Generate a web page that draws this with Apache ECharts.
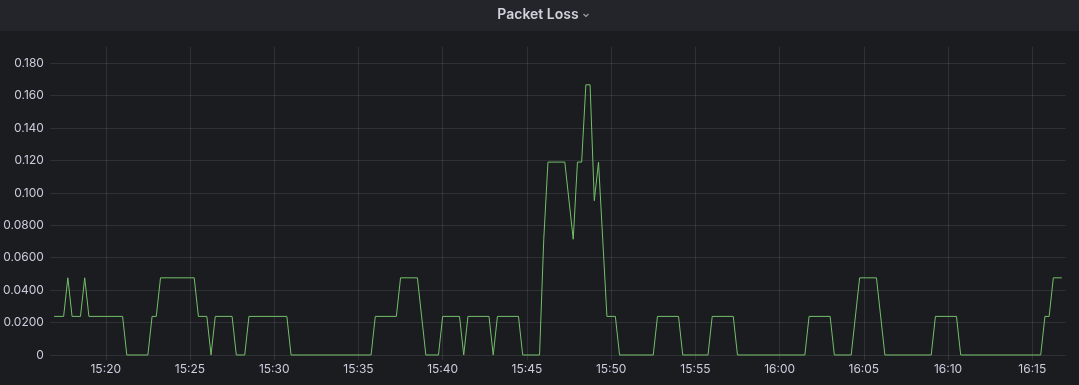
<!DOCTYPE html>
<html><head><meta charset="utf-8">
<script src="https://cdn.jsdelivr.net/npm/echarts@6/dist/echarts.min.js"></script>
<style>html,body{margin:0;padding:0;background:#1b1c20;}#c{width:1079px;height:385px;}</style>
</head><body><div id="c"></div>
<script>
const times = ['15:16:56','15:17:30','15:17:45','15:18:00','15:18:30','15:18:45','15:19:00','15:21:00','15:21:15','15:22:30',
  '15:22:45','15:23:00','15:23:15','15:25:15','15:25:30','15:26:00','15:26:15','15:26:30','15:27:30','15:27:45',
  '15:28:15','15:28:30','15:30:45','15:31:00','15:35:45','15:36:00','15:37:15','15:37:30','15:38:30','15:39:00',
  '15:39:45','15:40:00','15:41:00','15:41:15','15:41:30','15:42:45','15:43:00','15:43:15','15:44:30','15:44:45',
  '15:45:45','15:46:00','15:46:15','15:47:15','15:47:45','15:48:00','15:48:15','15:48:30','15:48:45','15:49:00',
  '15:49:15','15:49:45','15:50:15','15:50:30','15:52:30','15:52:45','15:54:00','15:54:15','15:55:45','15:56:00',
  '15:57:15','15:57:30','16:01:30','16:01:45','16:03:00','16:03:15','16:04:15','16:04:45','16:05:45','16:06:15',
  '16:09:00','16:09:15','16:10:30','16:10:45','16:15:30','16:15:45','16:16:00','16:16:15','16:16:45'];
const lossValues = [0.0238,0.0238,0.0476,0.0238,0.0238,0.0476,0.0238,0.0238,0,0,
  0.0238,0.0238,0.0476,0.0476,0.0238,0.0238,0,0.0238,0.0238,0,
  0,0.0238,0.0238,0,0,0.0238,0.0238,0.0476,0.0476,0,
  0,0.0238,0.0238,0,0.0238,0.0238,0,0.0238,0.0238,0,
  0,0.0714,0.119,0.119,0.0714,0.119,0.119,0.1667,0.1667,0.0952,
  0.119,0.0238,0.0238,0,0,0.0238,0.0238,0,0,0.0238,
  0.0238,0,0,0.0238,0.0238,0,0,0.0476,0.0476,0,
  0,0.0238,0.0238,0,0,0.0238,0.0238,0.0476,0.0476];
const xTickLabels = ['15:20','15:25','15:30','15:35','15:40','15:45','15:50','15:55','16:00','16:05','16:10','16:15'];
const yTickValues = [0,0.02,0.04,0.06,0.08,0.1,0.12,0.14,0.16,0.18];
const yTickLabels = ['0','0.0200','0.0400','0.0600','0.0800','0.100','0.120','0.140','0.160','0.180'];
const xRange = ['15:16:41','16:16:59'];
const yRange = [-0.0031, 0.1902];
const title = 'Packet Loss';

function toSec(s){const p=s.split(':').map(Number);return p[0]*3600+p[1]*60+(p[2]||0);}
function fmtX(v){const h=Math.floor(v/3600),m=Math.floor((v%3600)/60);return String(h).padStart(2,'0')+':'+String(m).padStart(2,'0');}
function fmtY(v){for(let i=0;i<yTickValues.length;i++){if(Math.abs(v-yTickValues[i])<1e-9)return yTickLabels[i];}return '';}

const xTicks = xTickLabels.map(toSec);
const textColor = '#ccccdc';
const gridColor = 'rgba(204,204,220,0.12)';
const chart = echarts.init(document.getElementById('c'), null, {renderer:'canvas'});
chart.setOption({
  backgroundColor: '#1b1c20',
  animation: false,
  graphic: [
    {type:'rect', left:0, top:0, shape:{width:1079, height:31}, style:{fill:'#24252a'}, z:-1},
    {type:'text', x:538, y:15, style:{text:title, fill:'#d2d3dc', font:'600 14px Inter', align:'center', verticalAlign:'middle'}},
    {type:'polyline', shape:{points:[[583.5,14],[586,16.5],[588.5,14]]}, style:{stroke:'#9fa0aa', lineWidth:1.2, fill:null}}
  ],
  grid: {left:49.3, right:13.3, top:46.7, bottom:25, containLabel:false},
  xAxis: {
    type:'value', min:toSec(xRange[0]), max:toSec(xRange[1]),
    axisLine:{show:false},
    axisTick:{show:false, customValues:xTicks},
    axisLabel:{customValues:xTicks, formatter:fmtX, color:textColor, fontFamily:'Inter', fontSize:12, margin:3},
    splitLine:{show:true, lineStyle:{color:gridColor, width:1}}
  },
  yAxis: {
    type:'value', min:yRange[0], max:yRange[1],
    axisLine:{show:false},
    axisTick:{show:false, customValues:yTickValues},
    axisLabel:{customValues:yTickValues, formatter:fmtY, color:textColor, fontFamily:'Inter', fontSize:12, margin:6},
    splitLine:{show:true, lineStyle:{color:gridColor, width:1}}
  },
  series: [{
    type:'line', showSymbol:false, symbol:'none',
    data: times.map((t,i)=>[toSec(t), lossValues[i]]),
    lineStyle:{color:'#73bf69', width:1},
    itemStyle:{color:'#73bf69'}
  }]
});
</script></body></html>
